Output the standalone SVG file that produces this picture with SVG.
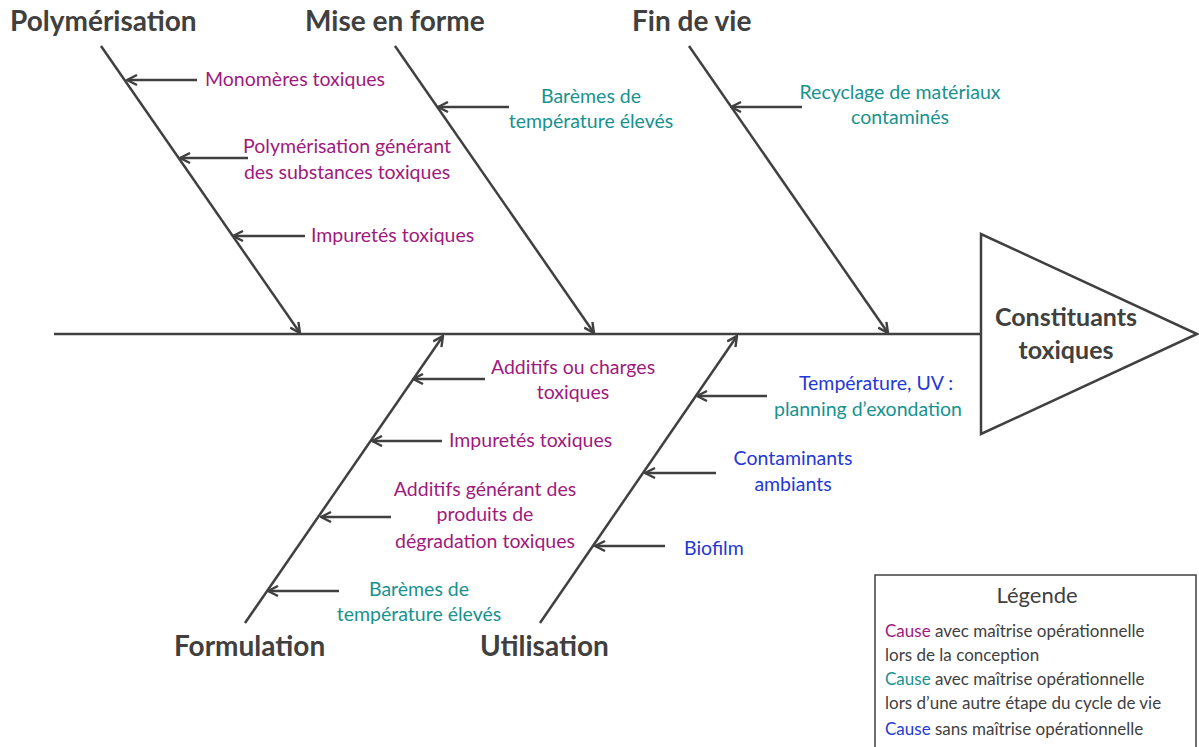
<svg xmlns="http://www.w3.org/2000/svg" width="1199" height="747" viewBox="0 0 1199 747">
<style>
.line{stroke:#404040;stroke-width:2.5;fill:none}
.bone{stroke:#404040;stroke-width:2.5;fill:none;marker-end:url(#arr)}
.hdr{font-family:Lato,"Liberation Sans",sans-serif;font-weight:bold;font-size:28px;fill:#404040}
.t{font-family:Lato,"Liberation Sans",sans-serif;font-size:19.5px}
.lg{font-family:Lato,"Liberation Sans",sans-serif;font-size:17px}
.p{fill:#A0197D}
.g{fill:#17928F}
.b{fill:#2438D6}
.k{fill:#404040}
.mid{text-anchor:middle}
</style>
<defs>
<marker id="arr" viewBox="0 0 12 12" refX="11" refY="6" markerWidth="12" markerHeight="12" markerUnits="userSpaceOnUse" orient="auto">
<path d="M1,1 L11,6 L1,11" fill="none" stroke="#404040" stroke-width="2.4"/>
</marker>
</defs>
<rect width="1199" height="747" fill="#ffffff"/>

<g id="connectors">
<line class="line" x1="54" y1="334" x2="981" y2="334"/>
<line class="bone" x1="101" y1="46" x2="300" y2="333"/>
<line class="bone" x1="395" y1="46" x2="594" y2="333"/>
<line class="bone" x1="689" y1="46" x2="888" y2="333"/>
<line class="bone" x1="245" y1="623" x2="443" y2="336"/>
<line class="bone" x1="540" y1="623" x2="737" y2="336"/>
<line class="bone" x1="197" y1="80" x2="127" y2="80"/>
<line class="bone" x1="248" y1="158" x2="180" y2="158"/>
<line class="bone" x1="305" y1="236" x2="233" y2="236"/>
<line class="bone" x1="509" y1="107" x2="438" y2="107"/>
<line class="bone" x1="802" y1="107" x2="731" y2="107"/>
<line class="bone" x1="485" y1="379" x2="413" y2="379"/>
<line class="bone" x1="442" y1="441" x2="372" y2="441"/>
<line class="bone" x1="391" y1="517" x2="321" y2="517"/>
<line class="bone" x1="339" y1="591" x2="268" y2="591"/>
<line class="bone" x1="767" y1="396" x2="697" y2="396"/>
<line class="bone" x1="716" y1="473" x2="645" y2="473"/>
<line class="bone" x1="665" y1="546" x2="595" y2="546"/>
</g>

<g id="effect">
<polygon points="981,234 981,434 1197,334" fill="#ffffff" stroke="#404040" stroke-width="2.5"/>
<text class="hdr mid" x="1066" y="326" style="font-size:25px">Constituants</text>
<text class="hdr mid" x="1066" y="359" style="font-size:25px">toxiques</text>
</g>

<g id="polymerisation">
<text class="hdr" x="10" y="31">Polymérisation</text>
<text class="t p" x="205" y="86">Monomères toxiques</text>
<text class="t p mid" x="347" y="153">Polymérisation générant</text>
<text class="t p mid" x="347" y="179">des substances toxiques</text>
<text class="t p" x="311" y="242">Impuretés toxiques</text>
</g>

<g id="mise-en-forme">
<text class="hdr" x="305" y="31">Mise en forme</text>
<text class="t g mid" x="591" y="103">Barèmes de</text>
<text class="t g mid" x="591" y="128">température élevés</text>
</g>

<g id="fin-de-vie">
<text class="hdr" x="632" y="31">Fin de vie</text>
<text class="t g mid" x="900" y="99">Recyclage de matériaux</text>
<text class="t g mid" x="900" y="124">contaminés</text>
</g>

<g id="formulation">
<text class="hdr" x="174" y="656">Formulation</text>
<text class="t p mid" x="573" y="374">Additifs ou charges</text>
<text class="t p mid" x="573" y="399">toxiques</text>
<text class="t p" x="449" y="447">Impuretés toxiques</text>
<text class="t p mid" x="485" y="496">Additifs générant des</text>
<text class="t p mid" x="485" y="521">produits de</text>
<text class="t p mid" x="485" y="548">dégradation toxiques</text>
<text class="t g mid" x="419" y="596">Barèmes de</text>
<text class="t g mid" x="419" y="621">température élevés</text>
</g>

<g id="utilisation">
<text class="hdr" x="480" y="656">Utilisation</text>
<text class="t b mid" x="876" y="390">Température, UV :</text>
<text class="t g mid" x="868" y="416">planning d’exondation</text>
<text class="t b mid" x="793" y="465">Contaminants</text>
<text class="t b mid" x="793" y="491">ambiants</text>
<text class="t b" x="684" y="555">Biofilm</text>
</g>

<g id="legende">
<rect x="875" y="575" width="321" height="200" fill="#ffffff" stroke="#404040" stroke-width="1.5"/>
<text class="lg k mid" x="1037" y="603" style="font-size:22px">Légende</text>
<text class="lg k" x="885" y="637"><tspan class="p">Cause</tspan> avec maîtrise opérationnelle</text>
<text class="lg k" x="885" y="661">lors de la conception</text>
<text class="lg k" x="885" y="685"><tspan class="g">Cause</tspan> avec maîtrise opérationnelle</text>
<text class="lg k" x="885" y="709">lors d’une autre étape du cycle de vie</text>
<text class="lg k" x="885" y="735"><tspan class="b">Cause</tspan> sans maîtrise opérationnelle</text>
</g>
</svg>
